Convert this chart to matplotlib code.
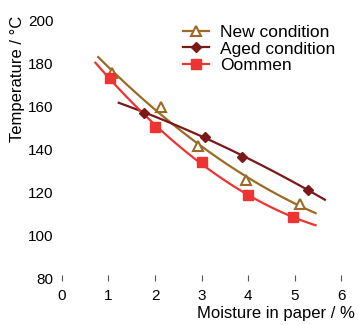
import numpy as np
import matplotlib.pyplot as plt

plt.rcParams['font.family'] = ['Liberation Sans', 'DejaVu Sans']

# measured points
new_x = [1.07, 2.12, 2.92, 3.95, 5.11]
new_y = [175.3, 159.5, 141.5, 125.5, 114.5]
aged_x = [1.76, 3.08, 3.86, 5.29]
aged_y = [157.0, 145.8, 136.5, 121.0]
oom_x = [1.03, 2.0, 3.0, 3.99, 4.97]
oom_y = [173.0, 150.3, 133.8, 118.8, 108.2]

# trendline ranges
new_rng = [0.78, 5.45]
aged_rng = [1.22, 5.65]
oom_rng = [0.72, 5.45]

c_new = '#9C6A26'
c_aged = '#7B1818'
c_oom = '#EE3333'

fig = plt.figure(figsize=[3.58, 3.25], dpi=100)
ax = fig.add_axes([0.173, 0.1446, 0.78, 0.7934])


def trend(x, y, rng):
    p = np.polyfit(x, y, 2)
    xx = np.linspace(rng[0], rng[1], 100)
    return xx, np.polyval(p, xx)


for xs, ys, rng, c, m, lab, kw in [
        (new_x, new_y, new_rng, c_new, '^', 'New condition', dict(mfc='white', mew=1.5, ms=6.5)),
        (aged_x, aged_y, aged_rng, c_aged, 'D', 'Aged condition', dict(ms=5)),
        (oom_x, oom_y, oom_rng, c_oom, 's', 'Oommen', dict(ms=7))]:
    xx, yy = trend(xs, ys, rng)
    ax.plot(xx, yy, color=c, lw=1.6, zorder=2)
    ax.plot(xs, ys, ls='none', marker=m, color=c, mec=c, zorder=3, **kw)
    ax.plot([], [], color=c, lw=1.6, marker=m, mec=c, label=lab, **kw)

ax.set_xlim(0, 6)
ax.set_ylim(80, 200)
ax.set_xticks([0, 1, 2, 3, 4, 5, 6])
ax.set_yticks([80, 100, 120, 140, 160, 180, 200])
for s in ax.spines.values():
    s.set_visible(False)
ax.tick_params(axis='x', direction='inout', length=4, width=0.8, color='#555555',
               labelsize=11, pad=6)
ax.tick_params(axis='y', length=0, labelsize=11, pad=6)

fig.text(0.99, 0.035, 'Moisture in paper / %', ha='right', va='center', fontsize=12)
fig.text(0.05, 0.95, 'Temperature / °C', ha='center', va='top', rotation=90, fontsize=12)

ax.legend(loc='upper left', bbox_to_anchor=(0.41, 1.01), frameon=False, fontsize=12.5,
          handlelength=1.5, handletextpad=0.6, labelspacing=0.1, borderaxespad=0)

fig.savefig('out.png', dpi=100)
